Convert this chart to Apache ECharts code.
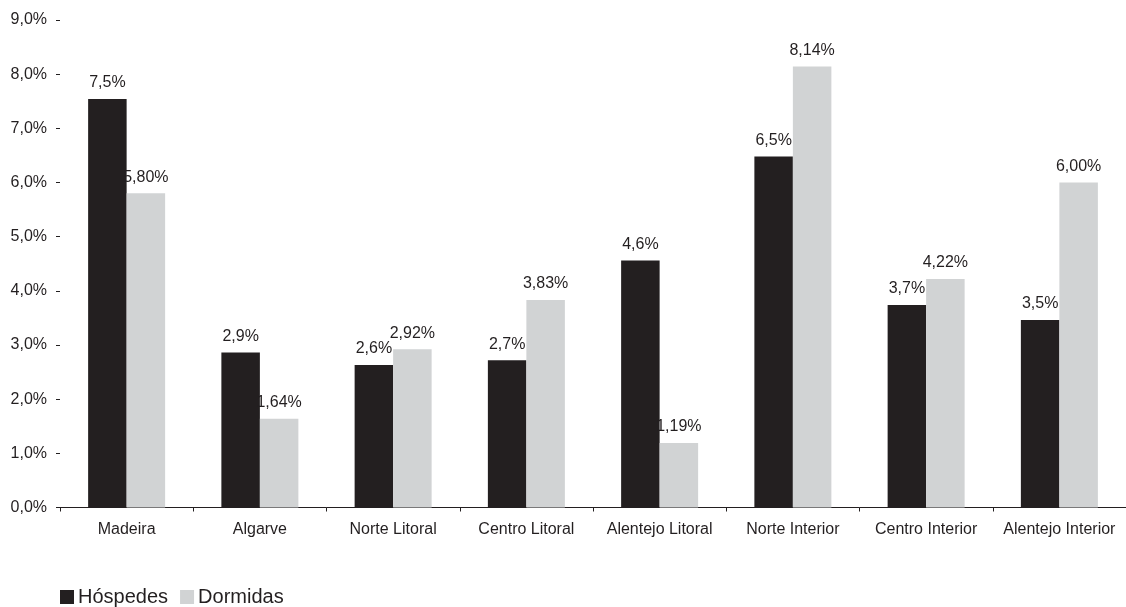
<!DOCTYPE html>
<html>
<head>
<meta charset="utf-8">
<script src="https://cdn.jsdelivr.net/npm/echarts@6/dist/echarts.min.js"></script>
<style>
html,body{margin:0;padding:0;background:#fff;}
#c{width:1126px;height:607px;}
</style>
</head>
<body>
<div id="c"></div>
<script>
var categories = ['Madeira','Algarve','Norte Litoral','Centro Litoral','Alentejo Litoral','Norte Interior','Centro Interior','Alentejo Interior'];
var hospedes = [7.54, 2.86, 2.63, 2.72, 4.56, 6.48, 3.74, 3.46];
var dormidas = [5.80, 1.64, 2.92, 3.83, 1.19, 8.14, 4.22, 6.00];
var seriesNames = ['Hóspedes','Dormidas'];

var FONT = '"Liberation Sans", Arial, sans-serif';
var TXT = '#231f20';
function fmt(v, d){ return v.toFixed(d).replace('.', ',') + '%'; }

var chart = echarts.init(document.getElementById('c'));
chart.setOption({
  animation: false,
  backgroundColor: '#ffffff',
  textStyle: { fontFamily: FONT },
  grid: { left: 60, top: 20, width: 1071, height: 487.5, containLabel: false },
  legend: {
    left: 55, bottom: -5,
    itemWidth: 14, itemHeight: 14, itemGap: 12,
    icon: 'rect',
    textStyle: { fontFamily: FONT, fontSize: 20, color: TXT, padding: [0,0,0,-1] },
    data: seriesNames
  },
  xAxis: {
    type: 'category',
    data: categories,
    axisLine: { show: true, lineStyle: { color: TXT, width: 1 } },
    axisTick: { show: true, length: 4, interval: 0, lineStyle: { color: TXT } },
    axisLabel: { fontFamily: FONT, fontSize: 16, color: TXT, margin: 14, interval: 0 }
  },
  yAxis: {
    type: 'value',
    min: 0, max: 9, interval: 1,
    splitLine: { show: false },
    axisLine: { show: false },
    axisTick: { show: true, length: 4, lineStyle: { color: TXT } },
    axisLabel: { fontFamily: FONT, fontSize: 16, color: TXT, margin: 13,
      formatter: function(v){ return fmt(v,1); } }
  },
  series: [
    {
      name: seriesNames[0], type: 'bar', data: hospedes,
      barWidth: 38.5, barGap: '0%',
      itemStyle: { color: '#231f20' },
      label: { show: true, position: 'top', distance: 8, fontFamily: FONT, fontSize: 16, color: TXT,
        formatter: function(p){ return fmt(p.value,1); } }
    },
    {
      name: seriesNames[1], type: 'bar', data: dormidas,
      barWidth: 38.5, barGap: '0%',
      itemStyle: { color: '#d1d3d4' },
      label: { show: true, position: 'top', distance: 8, fontFamily: FONT, fontSize: 16, color: TXT,
        formatter: function(p){ return fmt(p.value,2); } }
    }
  ]
});
</script>
</body>
</html>
